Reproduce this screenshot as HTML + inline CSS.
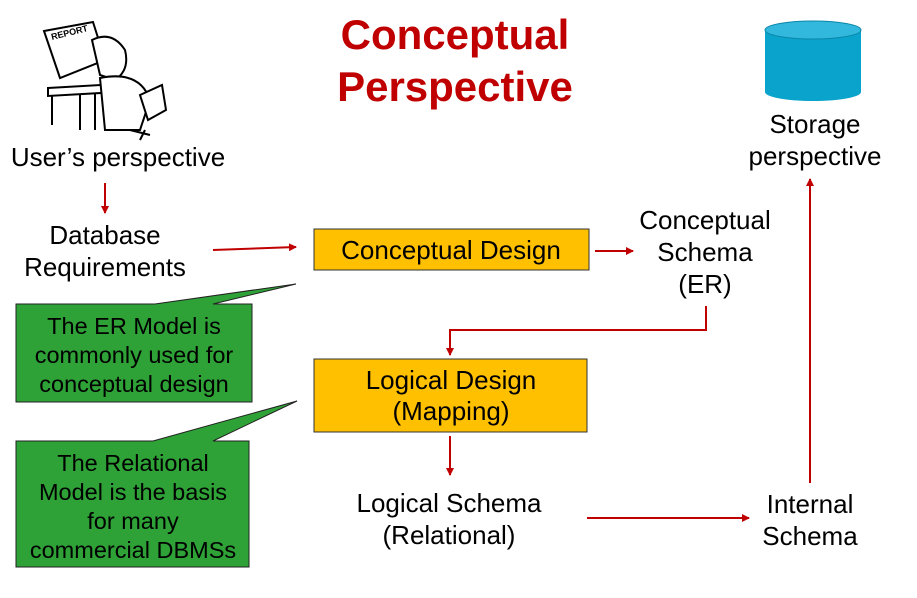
<!DOCTYPE html>
<html><head><meta charset="utf-8"><style>
html,body{margin:0;padding:0;background:#fff;}
svg{display:block;font-family:"Liberation Sans",Arial,sans-serif;}
</style></head><body>
<svg width="917" height="598" viewBox="0 0 917 598" xmlns="http://www.w3.org/2000/svg">
<defs>
<marker id="a" markerWidth="8" markerHeight="8" refX="7" refY="4" orient="auto" markerUnits="userSpaceOnUse">
<path d="M0,0 L8,4 L0,8 z" fill="#C00000"/></marker>
</defs>
<text x="455" y="49" font-size="42" font-weight="bold" fill="#C00000" text-anchor="middle">Conceptual</text>
<text x="455" y="101" font-size="42" font-weight="bold" fill="#C00000" text-anchor="middle">Perspective</text>
<g stroke="#000" stroke-width="2" fill="#fff">
<path d="M44,31 L93,22 L105,60 L60,78 Z"/>
<text x="52" y="40" font-size="9" font-weight="bold" fill="#000" stroke="none" transform="rotate(-14 52 40)">REPORT</text>
<path d="M92,40 Q112,30 125,50 Q130,70 115,80 L100,75 Z"/>
<path d="M48,88 L118,84 L118,92 L48,96 Z"/>
<path d="M52,96 L52,125 M80,94 L80,130 M95,94 L95,130"/>
<path d="M100,78 Q140,70 150,100 L140,130 L105,130 Z"/>
<path d="M140,95 L162,85 L166,110 L148,120 Z"/>
<path d="M130,130 L150,135 M145,130 L140,140"/>
</g>
<path d="M765,30 L765,92 A48,9 0 0 0 861,92 L861,30 Z" fill="#0AA3CC"/>
<ellipse cx="813" cy="30" rx="48" ry="9" fill="#33B8DD" stroke="#0A86A8" stroke-width="1"/>
<g font-size="26" fill="#000" text-anchor="middle">
<text x="118" y="166">User’s perspective</text>
<text x="105" y="244">Database</text>
<text x="105" y="276">Requirements</text>
<text x="705" y="229">Conceptual</text>
<text x="705" y="261">Schema</text>
<text x="705" y="293">(ER)</text>
<text x="815" y="133">Storage</text>
<text x="815" y="165">perspective</text>
<text x="449" y="512">Logical Schema</text>
<text x="449" y="544">(Relational)</text>
<text x="810" y="513">Internal</text>
<text x="810" y="545">Schema</text>
</g>
<rect x="314" y="229" width="275" height="41" fill="#FFC000" stroke="#333" stroke-width="1"/>
<text x="451" y="259" font-size="26" text-anchor="middle">Conceptual Design</text>
<rect x="314" y="359" width="273" height="73" fill="#FFC000" stroke="#333" stroke-width="1"/>
<text x="451" y="389" font-size="26" text-anchor="middle">Logical Design</text>
<text x="451" y="420" font-size="26" text-anchor="middle">(Mapping)</text>
<path d="M16,304 L155,304 L296,284 L213,304 L252,304 L252,402 L16,402 Z" fill="#2EA236" stroke="#222" stroke-width="1"/>
<g font-size="23.5" text-anchor="middle">
<text x="134" y="334">The ER Model is</text>
<text x="134" y="363">commonly used for</text>
<text x="134" y="392">conceptual design</text>
</g>
<path d="M16,441 L153,441 L297,401 L213,441 L249,441 L249,567 L16,567 Z" fill="#2EA236" stroke="#222" stroke-width="1"/>
<g font-size="23.5" text-anchor="middle">
<text x="133" y="471">The Relational</text>
<text x="133" y="500">Model is the basis</text>
<text x="133" y="529">for many</text>
<text x="133" y="558">commercial DBMSs</text>
</g>
<g stroke="#C00000" stroke-width="2" fill="none">
<line x1="105" y1="183" x2="105" y2="213" marker-end="url(#a)"/>
<line x1="213" y1="250" x2="296" y2="247" marker-end="url(#a)"/>
<line x1="595" y1="251" x2="633" y2="251" marker-end="url(#a)"/>
<polyline points="706,306 706,330 450,330 450,355" marker-end="url(#a)"/>
<line x1="450" y1="436" x2="450" y2="475" marker-end="url(#a)"/>
<line x1="587" y1="518" x2="749" y2="518" marker-end="url(#a)"/>
<line x1="810" y1="483" x2="810" y2="179" marker-end="url(#a)"/>
</g>
</svg>
</body></html>
